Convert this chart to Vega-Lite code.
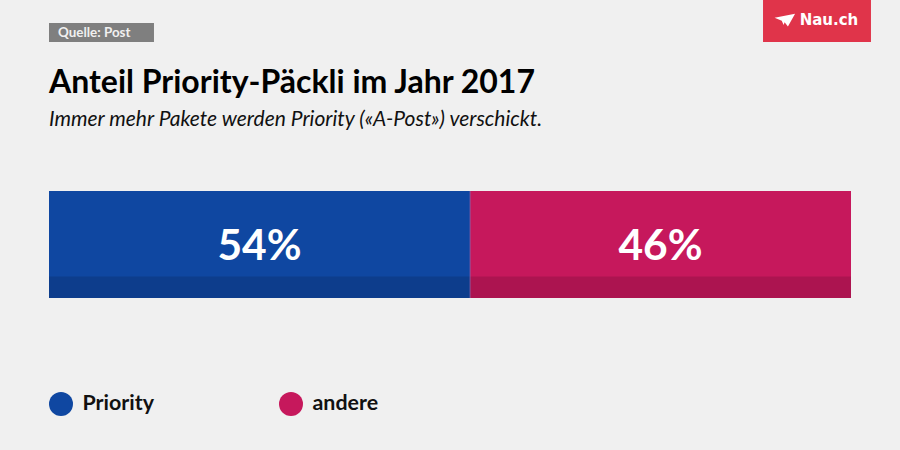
{
"$schema":"https://vega.github.io/schema/vega-lite/v6.json",
"width":802,"height":107,
"autosize":{"type":"none"},
"padding":{"left":49,"top":191,"right":49,"bottom":152},
"background":"#f0f0f0",
"config":{"view":{"stroke":null},"font":"Lato"},
"title":{"text":"Anteil Priority-Päckli im Jahr 2017","subtitle":"Immer mehr Pakete werden Priority («A-Post») verschickt.","anchor":"start","frame":"group","font":"Lato","fontSize":32,"fontWeight":"bold","color":"#000000","subtitleFont":"Lato","subtitleFontStyle":"italic","subtitleFontSize":21,"subtitleFontWeight":"normal","subtitleColor":"#111111","subtitlePadding":9,"offset":-132},
"data":{"values":[
{"kategorie":"Priority","von":0,"bis":52.5,"label":"54%"},
{"kategorie":"andere","von":52.5,"bis":100,"label":"46%"}
]},
"layer":[
{"mark":{"type":"rect"},
"encoding":{
"x":{"field":"von","type":"quantitative","axis":null,"scale":{"domain":[0,100],"nice":false,"zero":false}},
"x2":{"field":"bis"},
"y":{"datum":0,"type":"quantitative","axis":null,"scale":{"domain":[0,1],"nice":false,"zero":false}},
"y2":{"datum":1},
"color":{"field":"kategorie","type":"nominal","sort":null,"scale":{"domain":["Priority","andere"],"range":["#0f47a1","#c6185c"]},
"legend":{"title":null,"orient":"none","legendX":0,"legendY":201,"direction":"horizontal","symbolType":"circle","symbolSize":576,"symbolStrokeWidth":0,"labelFont":"Lato","labelFontSize":21.4,"labelFontWeight":"bold","labelColor":"#111111","labelOffset":9.5,"columnPadding":125,"gridAlign":"none","padding":0}}
}},
{"mark":{"type":"rect","fill":"#000000","opacity":0.13},
"encoding":{"x":{"field":"von","type":"quantitative"},"x2":{"field":"bis"},"y":{"datum":0,"type":"quantitative"},"y2":{"datum":0.2}}},
{"data":{"values":[{"v":1}]},"mark":{"type":"rule","stroke":"#7f5fa8","strokeWidth":1,"opacity":0.8},
"encoding":{"x":{"datum":52.5,"type":"quantitative"},"y":{"datum":0,"type":"quantitative"},"y2":{"datum":1}}},
{"transform":[{"calculate":"(datum.von+datum.bis)/2","as":"mitte"}],"mark":{"type":"text","font":"Lato","fontSize":42.5,"fontWeight":"bold","fill":"#ffffff","align":"center","baseline":"middle"},
"encoding":{"x":{"field":"mitte","type":"quantitative"},"y":{"datum":0.48,"type":"quantitative"},"text":{"field":"label"}}},
{"data":{"values":[{"t":"Quelle: Post"}]},"mark":{"type":"rect","fill":"#7f7f7f"},
"encoding":{"x":{"datum":0,"type":"quantitative"},"x2":{"datum":13.09},"y":{"datum":2.393,"type":"quantitative"},"y2":{"datum":2.57}}},
{"data":{"values":[{"t":"Quelle: Post"}]},"mark":{"type":"text","font":"Lato","fontSize":13.4,"fontWeight":"bold","fill":"#f0f0f0","align":"left","baseline":"middle"},
"encoding":{"x":{"datum":1.12,"type":"quantitative"},"y":{"datum":2.481,"type":"quantitative"},"text":{"field":"t"}}},
{"data":{"values":[{"t":"Nau.ch"}]},"mark":{"type":"rect","fill":"#e0344a"},
"encoding":{"x":{"datum":89.03,"type":"quantitative"},"x2":{"datum":102.49},"y":{"datum":2.393,"type":"quantitative"},"y2":{"datum":2.79}}},
{"data":{"values":[{"t":"Nau.ch"}]},"mark":{"type":"text","font":"DejaVu Sans","fontSize":15,"fontWeight":"bold","fill":"#ffffff","align":"left","baseline":"middle"},
"encoding":{"x":{"datum":93.6,"type":"quantitative"},"y":{"datum":2.6,"type":"quantitative"},"text":{"field":"t"}}},
{"data":{"values":[{"t":"Nau.ch"}]},"mark":{"type":"point","filled":true,"fill":"#ffffff","opacity":1,"size":420,"shape":"M-1,-0.2 L1,-0.6 L0.3,0.65 L-0.02,0.25 L-0.12,0.5 L-0.3,0.1 Z"},
"encoding":{"x":{"datum":91.75,"type":"quantitative"},"y":{"datum":2.6,"type":"quantitative"}}}
]
}
